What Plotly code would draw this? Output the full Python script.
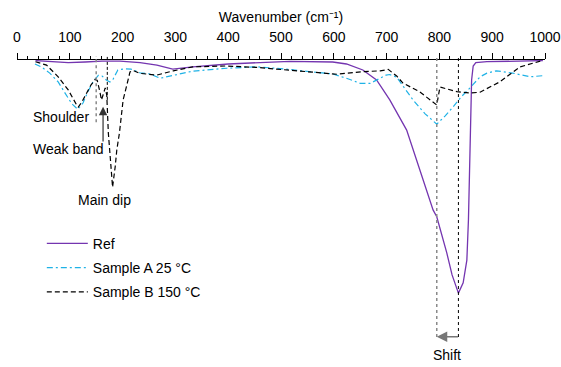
import numpy as np
import plotly.graph_objects as go

# ---------------- data ----------------
x_ref = [35, 62, 97, 129, 161, 195, 233, 265, 295, 333, 400, 460, 517, 598, 624,
         655, 681, 706, 738, 763, 788, 795, 814, 824, 836, 845, 852, 855, 858, 860,
         861, 864, 869, 890, 996]
y_ref = [99.8, 99.5, 99.1, 99.3, 99.6, 99.6, 99.1, 98.2, 96.8, 97.6, 98.6, 99.1, 99.5,
         99.3, 98.6, 96.5, 93.0, 86.0, 75.4, 61.4, 47.4, 45.0, 32.3, 24.6, 18.2, 21.8,
         29.8, 43.9, 64.9, 82.5, 93.0, 97.9, 99.1, 99.4, 99.8]

x_a = [34, 47, 62, 78, 91, 104, 115, 125, 134, 144, 154, 161, 169, 176, 182, 191, 204,
       216, 233, 252, 271, 296, 333, 397, 454, 498, 561, 598, 624, 650, 669, 688, 699,
       706, 719, 750, 773, 795, 811, 826, 841, 858, 877, 890, 908, 939, 972, 996]
y_a = [98.6, 97.5, 95.4, 92.3, 88.4, 84.6, 82.7, 84.9, 88.8, 92.3, 94.6, 94.4, 93.0,
       92.3, 93.3, 96.5, 96.9, 96.8, 95.5, 95.1, 93.6, 94.7, 96.1, 97.1, 97.6, 97.0,
       95.7, 95.1, 93.6, 91.8, 91.8, 93.6, 94.7, 94.9, 94.0, 86.0, 81.1, 77.5, 80.4,
       83.6, 87.0, 90.2, 94.1, 95.4, 96.2, 95.4, 94.1, 94.5]

x_b = [35, 56, 78, 97, 113, 116, 123, 132, 140, 148, 152, 157, 160, 163, 167, 170, 173,
       178, 181, 186, 189, 194, 198, 201, 208, 214, 220, 233, 265, 296, 333, 397, 454,
       511, 561, 606, 655, 688, 703, 719, 731, 763, 795, 801, 833, 858, 877, 915, 953, 991]
y_b = [99.4, 98.2, 94.1, 89.5, 84.2, 83.5, 85.3, 88.4, 91.2, 93.2, 92.8, 88.8, 86.0,
       87.7, 90.2, 87.7, 74.4, 62.6, 55.4, 62.6, 68.4, 74.4, 82.5, 86.0, 91.2, 95.8,
       96.3, 95.3, 94.7, 96.2, 97.6, 97.9, 97.4, 96.5, 95.5, 95.0, 95.9, 96.2, 96.7,
       94.4, 91.9, 88.8, 84.2, 90.5, 88.9, 88.4, 88.7, 92.4, 97.6, 99.6]

names = ["Ref", "Sample A 25 °C", "Sample B 150 °C"]
x_ticks = [0, 100, 200, 300, 400, 500, 600, 700, 800, 900, 1000]

FONT = "Liberation Sans, Arial, sans-serif"
PURPLE = "#7435b0"
CYAN = "#1fb2e6"

fig = go.Figure()
fig.add_trace(go.Scatter(x=x_ref, y=y_ref, mode="lines", name=names[0], legendgroup="g1",
                         line=dict(color=PURPLE, width=1.3)))
fig.add_trace(go.Scatter(x=x_a, y=y_a, mode="lines", name=names[1], legendgroup="g2",
                         line=dict(color=CYAN, width=1.2, dash="6px,3px,2px,3px")))
fig.add_trace(go.Scatter(x=x_b, y=y_b, mode="lines", name=names[2], legendgroup="g3",
                         line=dict(color="black", width=1.2, dash="5px,3px")))

# marker positions derived from the data
x_min_ref = x_ref[int(np.argmin(y_ref))]
x_min_a = x_a[int(np.argmin(y_a))]

shapes = [
    dict(type="line", xref="x", yref="paper", x0=150, x1=150, y0=0.782, y1=1.014,
         line=dict(color="#8a8a8a", width=1.5, dash="dot")),
    dict(type="line", xref="x", yref="paper", x0=171, x1=171, y0=0.86, y1=1.014,
         line=dict(color="black", width=1, dash="3px,2px")),
    dict(type="line", xref="x", yref="paper", x0=x_min_a, x1=x_min_a, y0=0.028, y1=1.014,
         line=dict(color="#8a8a8a", width=1.5, dash="dot")),
    dict(type="line", xref="x", yref="paper", x0=x_min_ref, x1=x_min_ref, y0=0.028, y1=1.014,
         line=dict(color="black", width=1, dash="dot")),
]

annotations = [
    dict(x=163, y=83.6, ax=163, ay=70.9, xref="x", yref="y", axref="x", ayref="y",
         text="", showarrow=True, arrowhead=2, arrowsize=1.4, arrowwidth=1.2,
         arrowcolor="#333333"),
    dict(x=x_min_a, y=2.9, ax=x_min_ref + 2, ay=2.9, xref="x", yref="y", axref="x", ayref="y",
         text="", showarrow=True, arrowhead=2, arrowsize=1.4, arrowwidth=1.5,
         arrowcolor="#777777"),
    dict(x=26, y=80, xref="x", yref="y", text="Shoulder", showarrow=False,
         xanchor="left", yanchor="middle", font=dict(size=14, color="black", family=FONT)),
    dict(x=26, y=68.8, xref="x", yref="y", text="Weak band", showarrow=False,
         xanchor="left", yanchor="middle", font=dict(size=14, color="black", family=FONT)),
    dict(x=112, y=50.9, xref="x", yref="y", text="Main dip", showarrow=False,
         xanchor="left", yanchor="middle", font=dict(size=14, color="black", family=FONT)),
    dict(x=814, y=-0.035, xref="x", yref="paper", text="Shift", showarrow=False,
         xanchor="center", yanchor="middle", font=dict(size=14, color="black", family=FONT)),
]

fig.update_layout(
    width=561, height=367,
    margin=dict(l=17, r=16, t=60, b=22, autoexpand=False),
    paper_bgcolor="white", plot_bgcolor="white",
    font=dict(family=FONT, size=14, color="black"),
    showlegend=True,
    legend=dict(x=0.047, y=0.411, xanchor="left", yanchor="top",
                bgcolor="rgba(0,0,0,0)", tracegroupgap=3, itemwidth=41,
                font=dict(size=14, family=FONT)),
    xaxis=dict(side="top", range=[0, 1000], tickvals=x_ticks, automargin=False,
               ticks="outside", ticklen=6, tickwidth=1, tickcolor="black",
               ticklabelstandoff=5,
               showline=True, linecolor="black", linewidth=1,
               showgrid=False, zeroline=False,
               minor=dict(dtick=20, ticks="outside", ticklen=3, tickcolor="black",
                          showgrid=False),
               title=dict(text="Wavenumber (cm⁻¹)", standoff=3,
                          font=dict(size=14, family=FONT)),
               tickfont=dict(size=14, family=FONT)),
    yaxis=dict(visible=False, range=[0, 100]),
    shapes=shapes,
    annotations=annotations,
)

fig.write_html("out.html", config={"displayModeBar": False},
               post_script="document.body.style.margin='0';")
